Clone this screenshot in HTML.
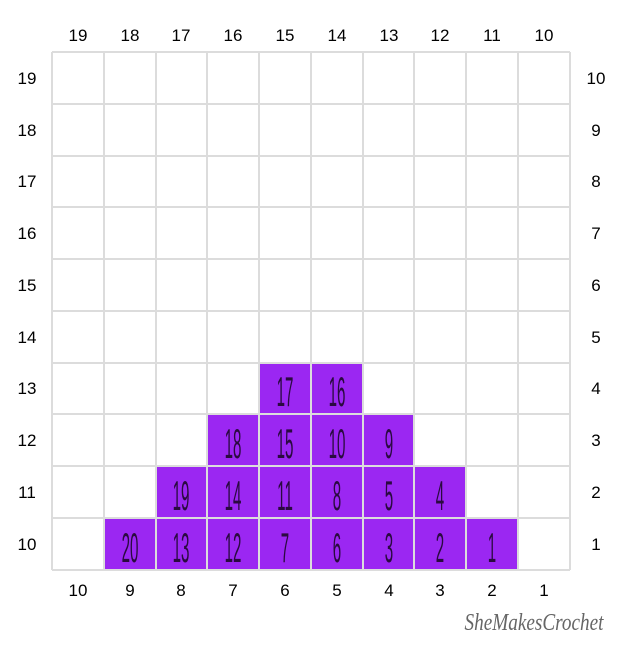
<!DOCTYPE html><html><head><style>
body{margin:0;background:#fff;width:621px;height:640px;overflow:hidden}
</style></head><body>
<svg width="621" height="640" xmlns="http://www.w3.org/2000/svg" font-family="Liberation Sans, sans-serif">
<g fill="#9b27f2">
<rect x="104" y="518" width="414" height="52"/>
<rect x="156" y="466" width="310" height="52"/>
<rect x="207" y="414" width="207" height="52"/>
<rect x="259" y="362" width="104" height="52"/>
</g>
<g stroke="#dcdcdc" stroke-width="2">
<path d="M52,52V570M104,52V570M156,52V570M207,52V570M259,52V570M311,52V570M363,52V570M414,52V570M466,52V570M518,52V570M570,52V570"/>
<path d="M52,52H570M52,104H570M52,156H570M52,207H570M52,259H570M52,311H570M52,363H570M52,414H570M52,466H570M52,518H570M52,570H570"/>
</g>
<g font-size="17" text-anchor="middle" fill="#000">
<text x="78" y="41">19</text><text x="130" y="41">18</text><text x="181" y="41">17</text><text x="233" y="41">16</text><text x="285" y="41">15</text><text x="337" y="41">14</text><text x="389" y="41">13</text><text x="440" y="41">12</text><text x="492" y="41">11</text><text x="544" y="41">10</text>
<text x="78" y="596">10</text><text x="130" y="596">9</text><text x="181" y="596">8</text><text x="233" y="596">7</text><text x="285" y="596">6</text><text x="337" y="596">5</text><text x="389" y="596">4</text><text x="440" y="596">3</text><text x="492" y="596">2</text><text x="544" y="596">1</text>
<text x="27" y="84">19</text><text x="27" y="136">18</text><text x="27" y="187">17</text><text x="27" y="239">16</text><text x="27" y="291">15</text><text x="27" y="343">14</text><text x="27" y="394">13</text><text x="27" y="446">12</text><text x="27" y="498">11</text><text x="27" y="550">10</text>
<text x="596" y="84">10</text><text x="596" y="136">9</text><text x="596" y="187">8</text><text x="596" y="239">7</text><text x="596" y="291">6</text><text x="596" y="343">5</text><text x="596" y="394">4</text><text x="596" y="446">3</text><text x="596" y="498">2</text><text x="596" y="550">1</text>
</g>
<g font-size="42" fill="#2a0a40" text-anchor="middle" font-family="Liberation Sans, sans-serif">
<text transform="translate(130,562) scale(0.36,1)">20</text>
<text transform="translate(181,562) scale(0.36,1)">13</text>
<text transform="translate(233,562) scale(0.36,1)">12</text>
<text transform="translate(285,562) scale(0.36,1)">7</text>
<text transform="translate(337,562) scale(0.36,1)">6</text>
<text transform="translate(389,562) scale(0.36,1)">3</text>
<text transform="translate(440,562) scale(0.36,1)">2</text>
<text transform="translate(492,562) scale(0.36,1)">1</text>
<text transform="translate(181,510) scale(0.36,1)">19</text>
<text transform="translate(233,510) scale(0.36,1)">14</text>
<text transform="translate(285,510) scale(0.36,1)">11</text>
<text transform="translate(337,510) scale(0.36,1)">8</text>
<text transform="translate(389,510) scale(0.36,1)">5</text>
<text transform="translate(440,510) scale(0.36,1)">4</text>
<text transform="translate(233,458) scale(0.36,1)">18</text>
<text transform="translate(285,458) scale(0.36,1)">15</text>
<text transform="translate(337,458) scale(0.36,1)">10</text>
<text transform="translate(389,458) scale(0.36,1)">9</text>
<text transform="translate(285,406) scale(0.36,1)">17</text>
<text transform="translate(337,406) scale(0.36,1)">16</text>
</g>
<text x="0" y="0" font-size="24" text-anchor="middle" fill="#666" font-style="italic" font-family="Liberation Serif, serif" transform="translate(534,630) scale(0.8,1)">SheMakesCrochet</text>
</svg>
</body></html>
